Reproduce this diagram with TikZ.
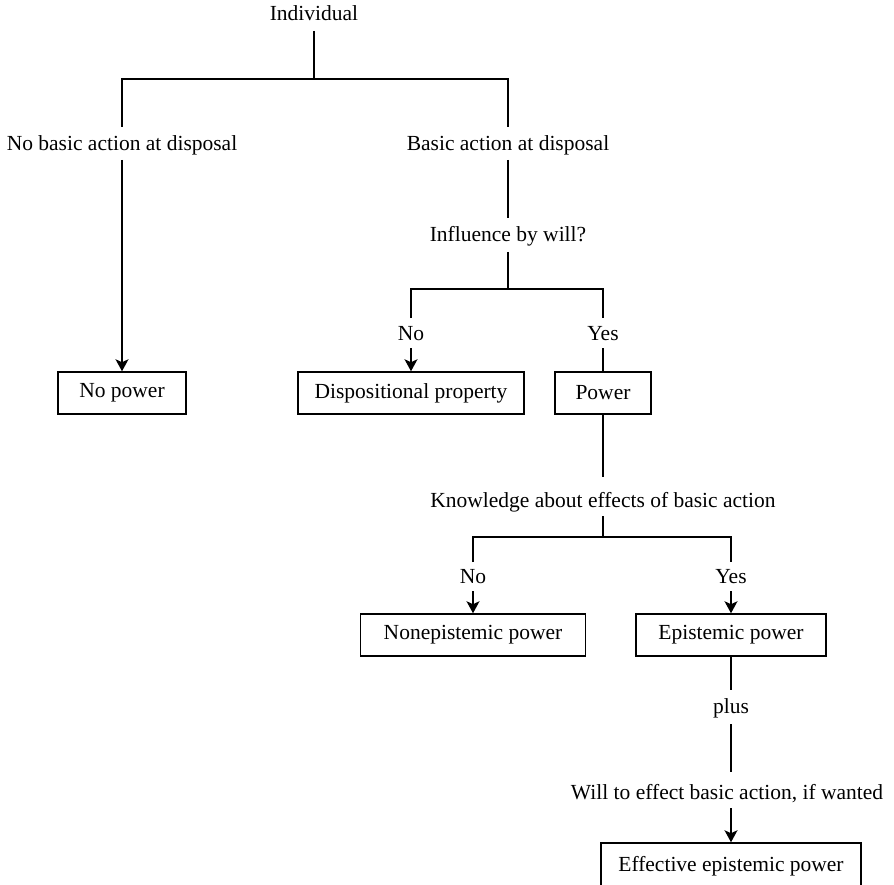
\documentclass[tikz,border=0pt]{standalone}
\usepackage{fontspec}
\setmainfont{Liberation Serif}
\usetikzlibrary{arrows.meta}
\begin{document}
\begin{tikzpicture}[x=1pt,y=-1pt,line width=1.5pt,
  lbl/.style={anchor=base,inner sep=0pt,font=\fontsize{21.5}{26}\selectfont},
  box/.style={draw,line width=1.5pt,minimum height=42pt,inner sep=0pt,font=\fontsize{21.5}{26}\selectfont},
  arr/.style={-{Stealth[length=12pt,width=13pt,inset=3pt]}}]
\useasboundingbox (0,0) rectangle (894,885);
\clip (0,0) rectangle (894,885);
% text labels
\node[lbl] (ind) at (314,21) {Individual};
\node[lbl] (nb) at (122,151) {No basic action at disposal};
\node[lbl] (b) at (508,151) {Basic action at disposal};
\node[lbl] (inf) at (508,242) {Influence by will?};
\node[lbl] (no1) at (411,340) {No};
\node[lbl] (yes1) at (603,340) {Yes};
\node[lbl] (know) at (603,507) {Knowledge about effects of basic action};
\node[lbl] (no2) at (473,583) {No};
\node[lbl] (yes2) at (731,583) {Yes};
\node[lbl] (plus) at (731,713) {plus};
\node[lbl] (will) at (727,799) {Will to effect basic action, if wanted};
% boxes
\node[box,minimum width=128pt] (nopower) at (122,393) {No power};
\node[box,minimum width=226pt] (disp) at (411,393) {Dispositional property};
\node[box,minimum width=96pt] (power) at (603,393) {Power};
\node[box,minimum width=225pt] (nonep) at (473,635) {Nonepistemic power};
\node[box,minimum width=190pt] (epis) at (731,635) {Epistemic power};
\node[box,minimum width=260pt,minimum height=46pt] (eff) at (731,866) {Effective epistemic power};
% coordinates
\coordinate (indb) at (314,31);
\coordinate (j1) at (314,79);
\coordinate (la) at (122,127);
\coordinate (ra) at (508,127);
\coordinate (c1) at (122,160);
\coordinate (c2) at (508,160);
\coordinate (c3) at (508,218);
\coordinate (c4) at (508,252);
\coordinate (j2) at (508,289);
\coordinate (n1t) at (411,318);
\coordinate (y1t) at (603,318);
\coordinate (c5) at (411,348);
\coordinate (c6) at (603,348);
\coordinate (c7) at (603,477);
\coordinate (c8) at (603,516);
\coordinate (j3) at (603,537);
\coordinate (n2t) at (473,562);
\coordinate (y2t) at (731,562);
\coordinate (c9) at (473,591);
\coordinate (c10) at (731,591);
\coordinate (c11) at (731,690);
\coordinate (c12) at (731,724);
\coordinate (c13) at (731,772);
\coordinate (c14) at (731,808);
% connectors
\draw (indb) -- (j1);
\draw (la) |- (j1) -| (ra);
\draw[arr] (c1) -- (nopower);
\draw (c2) -- (c3);
\draw (c4) -- (j2);
\draw (n1t) |- (j2) -| (y1t);
\draw[arr] (c5) -- (disp);
\draw (c6) -- (power);
\draw (power) -- (c7);
\draw (c8) -- (j3);
\draw (n2t) |- (j3) -| (y2t);
\draw[arr] (c9) -- (nonep);
\draw[arr] (c10) -- (epis);
\draw (epis) -- (c11);
\draw (c12) -- (c13);
\draw[arr] (c14) -- (eff);
\end{tikzpicture}
\end{document}
